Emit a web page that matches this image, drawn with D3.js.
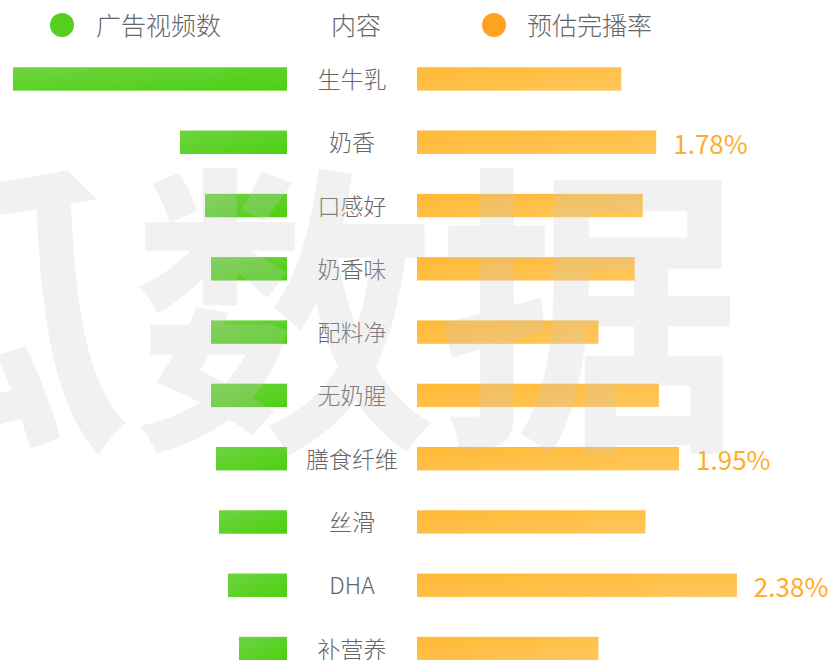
<!DOCTYPE html>
<html>
<head>
<meta charset="utf-8">
<script src="https://cdn.jsdelivr.net/npm/d3@7"></script>
<style>
  body { margin: 0; background: #fff; }
  svg { display: block; }
</style>
</head>
<body>
<div id="chart"></div>
<script>
// data
const categories = ["生牛乳", "奶香", "口感好", "奶香味", "配料净", "无奶腥", "膳食纤维", "丝滑", "DHA", "补营养"];
const videoCounts = [1370, 535, 410, 380, 380, 380, 355, 340, 295, 240];
const playRates = [1.52, 1.78, 1.68, 1.62, 1.35, 1.80, 1.95, 1.70, 2.38, 1.35];
const labeled = ["奶香", "膳食纤维", "DHA"];
const legendNames = ["广告视频数", "内容", "预估完播率"];

const width = 830, height = 660;
const font = "'Noto Sans CJK SC', 'Noto Sans', sans-serif";
const leftEdge = 287, rightEdge = 417, mid = (leftEdge + rightEdge) / 2;

const svg = d3.select("#chart").append("svg")
  .attr("width", width)
  .attr("height", height)
  .attr("font-family", font);

const defs = svg.append("defs");
const green = defs.append("linearGradient").attr("id", "green")
  .attr("x1", 0).attr("y1", 0).attr("x2", 1).attr("y2", 1);
green.append("stop").attr("offset", "0%").attr("stop-color", "#6fd340");
green.append("stop").attr("offset", "100%").attr("stop-color", "#4cd012");
const orange = defs.append("linearGradient").attr("id", "orange")
  .attr("x1", 0).attr("y1", 0).attr("x2", 1).attr("y2", 1);
orange.append("stop").attr("offset", "0%").attr("stop-color", "#ffb934");
orange.append("stop").attr("offset", "100%").attr("stop-color", "#ffc75c");

//scales
const y = d3.scaleBand().domain(categories).range([67.25, 660.25]).paddingInner(0.63);
const xl = d3.scaleLinear().domain([0, d3.max(videoCounts)]).range([0, 274]);
const xr = d3.scaleLinear().domain([0, 2.5]).range([0, 336]);

const rows = categories.map((c, i) => ({ name: c, count: videoCounts[i], rate: playRates[i] }));

svg.append("g").selectAll("rect")
  .data(rows)
  .join("rect")
  .attr("x", d => leftEdge - xl(d.count))
  .attr("y", d => y(d.name))
  .attr("width", d => xl(d.count))
  .attr("height", y.bandwidth())
  .attr("fill", "url(#green)");

svg.append("g").selectAll("rect")
  .data(rows)
  .join("rect")
  .attr("x", rightEdge)
  .attr("y", d => y(d.name))
  .attr("width", d => xr(d.rate))
  .attr("height", y.bandwidth())
  .attr("fill", "url(#orange)");

svg.append("g").selectAll("text")
  .data(rows)
  .join("text")
  .attr("x", mid)
  .attr("y", d => y(d.name) + y.bandwidth() / 2 - 1)
  .attr("text-anchor", "middle")
  .attr("dominant-baseline", "central")
  .attr("font-size", 23)
  .attr("font-weight", 300)
  .attr("fill", "#666")
  .text(d => d.name);

svg.append("g").selectAll("text")
  .data(rows.filter(d => labeled.includes(d.name)))
  .join("text")
  .attr("x", d => rightEdge + xr(d.rate) + 17)
  .attr("y", d => y(d.name) + y.bandwidth() / 2)
  .attr("dominant-baseline", "central")
  .attr("font-size", 26)
  .attr("fill", "#ffab2b")
  .text(d => d.rate.toFixed(2) + "%");

// legend
const legend = svg.append("g");
legend.append("circle").attr("cx", 62).attr("cy", 25).attr("r", 12).attr("fill", "#55cf1e");
legend.append("circle").attr("cx", 494).attr("cy", 25).attr("r", 12).attr("fill", "#ffa223");
legend.selectAll("text")
  .data([[96, "start"], [mid + 4, "middle"], [527, "start"]])
  .join("text")
  .attr("x", d => d[0])
  .attr("y", 24)
  .attr("text-anchor", d => d[1])
  .attr("dominant-baseline", "central")
  .attr("font-size", 25)
  .attr("font-weight", 300)
  .attr("fill", "#666")
  .text((d, i) => legendNames[i]);

// watermark on top
svg.append("text")
  .attr("x", 742)
  .attr("y", 294)
  .attr("text-anchor", "end")
  .attr("dominant-baseline", "central")
  .attr("font-size", 305)
  .attr("font-weight", 700)
  .attr("fill", "#c8c8c8")
  .attr("fill-opacity", 0.25)
  .text("飞瓜数据");
</script>
</body>
</html>
